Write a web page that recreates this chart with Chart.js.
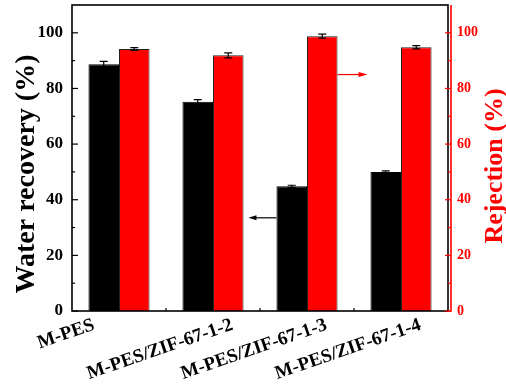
<!DOCTYPE html>
<html><head><meta charset="utf-8">
<script src="https://cdn.jsdelivr.net/npm/chart.js@4/dist/chart.umd.min.js"></script>
<style>html,body{margin:0;padding:0;background:#fff}#wrap{width:506px;height:392px}</style>
</head><body><div id="wrap"><canvas id="c" width="506" height="392"></canvas></div>
<script>
const categories = ['M-PES', 'M-PES/ZIF-67-1-2', 'M-PES/ZIF-67-1-3', 'M-PES/ZIF-67-1-4'];
const waterRecovery = [88.7, 75.2, 44.8, 50.0];
const waterRecoveryErr = [1.0, 0.8, 0.4, 0.4];
const rejection = [94.2, 91.9, 98.8, 94.8];
const rejectionErr = [0.5, 0.9, 0.7, 0.6];
const majorTicks = [0, 20, 40, 60, 80, 100];
const minorTicks = [10, 30, 50, 70, 90];
const axisMax = 110;
const leftTitle = 'Water recovery (%)';
const rightTitle = 'Rejection (%)';
const arrowLeftValue = 33.5;  // black arrow, left axis
const arrowRightValue = 85;   // red arrow, right axis

const FONT = "'Liberation Serif', 'Times New Roman', serif";

const overlay = {
  id: 'overlay',
  afterDatasetsDraw(chart) {
    const ctx = chart.ctx, a = chart.chartArea;
    const xs = chart.scales.x, yl = chart.scales.y, yr = chart.scales.y1;
    ctx.save();
    const errs = [waterRecoveryErr, rejectionErr];
    const vals = [waterRecovery, rejection];
    [0, 1].forEach(di => {
      const meta = chart.getDatasetMeta(di);
      const sc = di === 0 ? yl : yr;
      meta.data.forEach((bar, i) => {
        const yt = sc.getPixelForValue(vals[di][i] + errs[di][i]);
        const yb = sc.getPixelForValue(vals[di][i] - errs[di][i]);
        ctx.strokeStyle = '#000'; ctx.lineWidth = 1.2;
        ctx.beginPath();
        ctx.moveTo(bar.x, yt); ctx.lineTo(bar.x, yb);
        ctx.moveTo(bar.x - 4, yt); ctx.lineTo(bar.x + 4, yt);
        ctx.moveTo(bar.x - 4, yb); ctx.lineTo(bar.x + 4, yb);
        ctx.stroke();
      });
    });
    ctx.strokeStyle = '#000'; ctx.lineWidth = 1.6;
    ctx.strokeRect(a.left, a.top, a.right - a.left, a.bottom - a.top);
    const rx = a.right + 3;
    ctx.strokeStyle = '#ff0000'; ctx.lineWidth = 1.6;
    ctx.beginPath(); ctx.moveTo(rx, a.top); ctx.lineTo(rx, a.bottom); ctx.lineTo(a.right, a.bottom); ctx.stroke();
    ctx.lineWidth = 1.2;
    majorTicks.forEach(v => {
      const y = yr.getPixelForValue(v);
      ctx.beginPath(); ctx.moveTo(rx, y); ctx.lineTo(rx - 6, y); ctx.stroke();
    });
    minorTicks.forEach(v => {
      const y = yr.getPixelForValue(v);
      ctx.beginPath(); ctx.moveTo(rx, y); ctx.lineTo(rx - 3, y); ctx.stroke();
    });
    ctx.strokeStyle = '#000';
    majorTicks.forEach(v => {
      const y = yl.getPixelForValue(v);
      ctx.beginPath(); ctx.moveTo(a.left, y); ctx.lineTo(a.left + 6, y); ctx.stroke();
    });
    minorTicks.forEach(v => {
      const y = yl.getPixelForValue(v);
      ctx.beginPath(); ctx.moveTo(a.left, y); ctx.lineTo(a.left + 3, y); ctx.stroke();
    });
    for (let i = 0; i < categories.length - 1; i++) {
      const x = (xs.getPixelForValue(i) + xs.getPixelForValue(i + 1)) / 2;
      ctx.beginPath(); ctx.moveTo(x, a.bottom); ctx.lineTo(x, a.bottom - 3); ctx.stroke();
    }
    const m0 = chart.getDatasetMeta(0).data[2], m1 = chart.getDatasetMeta(1).data[2];
    const bl = m0.x - m0.width / 2, yA = yl.getPixelForValue(arrowLeftValue);
    ctx.strokeStyle = '#000'; ctx.fillStyle = '#000'; ctx.lineWidth = 1.2;
    ctx.beginPath(); ctx.moveTo(bl, yA); ctx.lineTo(bl - 22, yA); ctx.stroke();
    ctx.beginPath(); ctx.moveTo(bl - 28, yA); ctx.lineTo(bl - 20, yA - 2.5); ctx.lineTo(bl - 20, yA + 2.5); ctx.closePath(); ctx.fill();
    const br = m1.x + m1.width / 2, yB = yr.getPixelForValue(arrowRightValue);
    ctx.strokeStyle = '#ff0000'; ctx.fillStyle = '#ff0000';
    ctx.beginPath(); ctx.moveTo(br, yB); ctx.lineTo(br + 24, yB); ctx.stroke();
    ctx.beginPath(); ctx.moveTo(br + 30, yB); ctx.lineTo(br + 21, yB - 2.5); ctx.lineTo(br + 21, yB + 2.5); ctx.closePath(); ctx.fill();
    // x labels
    const ang = 19 * Math.PI / 180;
    ctx.font = 'bold 19px ' + FONT;
    ctx.fillStyle = '#000'; ctx.textAlign = 'center'; ctx.textBaseline = 'middle';
    categories.forEach((lab, i) => {
      const w = ctx.measureText(lab).width;
      const cx = xs.getPixelForValue(i) - 53;
      const cy = a.bottom + 6 + (w / 2) * Math.sin(ang) + 8 * Math.cos(ang);
      ctx.save(); ctx.translate(cx, cy); ctx.rotate(-ang); ctx.fillText(lab, 0, 0); ctx.restore();
    });
    // axis titles
    const midY = (a.top + a.bottom) / 2;
    ctx.save(); ctx.translate(27, midY + 16); ctx.rotate(-Math.PI / 2);
    ctx.font = 'bold 28px ' + FONT; ctx.fillStyle = '#000'; ctx.fillText(leftTitle, 0, 0); ctx.restore();
    ctx.save(); ctx.translate(495, midY + 8); ctx.rotate(-Math.PI / 2);
    ctx.font = 'bold 26px ' + FONT; ctx.fillStyle = '#ff0000'; ctx.fillText(rightTitle, 0, 0); ctx.restore();
    ctx.restore();
  }
};

new Chart(document.getElementById('c'), {
  type: 'bar',
  data: {
    labels: categories,
    datasets: [
      { label: 'Water recovery', data: waterRecovery, yAxisID: 'y', backgroundColor: '#000000', borderColor: '#000000', borderWidth: 1, categoryPercentage: 0.65, barPercentage: 1.0 },
      { label: 'Rejection', data: rejection, yAxisID: 'y1', backgroundColor: '#ff0000', borderColor: '#222', borderWidth: 1, categoryPercentage: 0.65, barPercentage: 1.0 }
    ]
  },
  options: {
    responsive: false, animation: false,
    layout: { padding: { top: 5, left: 0, right: 0, bottom: 0 } },
    plugins: { legend: { display: false }, tooltip: { enabled: false } },
    scales: {
      x: {
        grid: { display: false, drawTicks: false }, border: { display: false },
        ticks: { display: false },
        afterFit: s => { s.height = 81; }
      },
      y: {
        position: 'left', min: 0, max: axisMax,
        grid: { display: false, drawTicks: false }, border: { display: false },
        afterBuildTicks: s => { s.ticks = majorTicks.map(v => ({ value: v })); },
        ticks: { color: '#000', padding: 9, font: { family: FONT, size: 17, weight: 'bold' } },
        afterFit: s => { s.width = 72; s.paddingTop = 0; s.paddingBottom = 0; }
      },
      y1: {
        position: 'right', min: 0, max: axisMax,
        grid: { display: false, drawTicks: false }, border: { display: false },
        afterBuildTicks: s => { s.ticks = majorTicks.map(v => ({ value: v })); },
        ticks: { color: '#ff0000', padding: 9, font: { family: FONT, size: 14, weight: 'bold' } },
        afterFit: s => { s.width = 58; s.paddingTop = 0; s.paddingBottom = 0; }
      }
    }
  },
  plugins: [overlay]
});
</script></body></html>
